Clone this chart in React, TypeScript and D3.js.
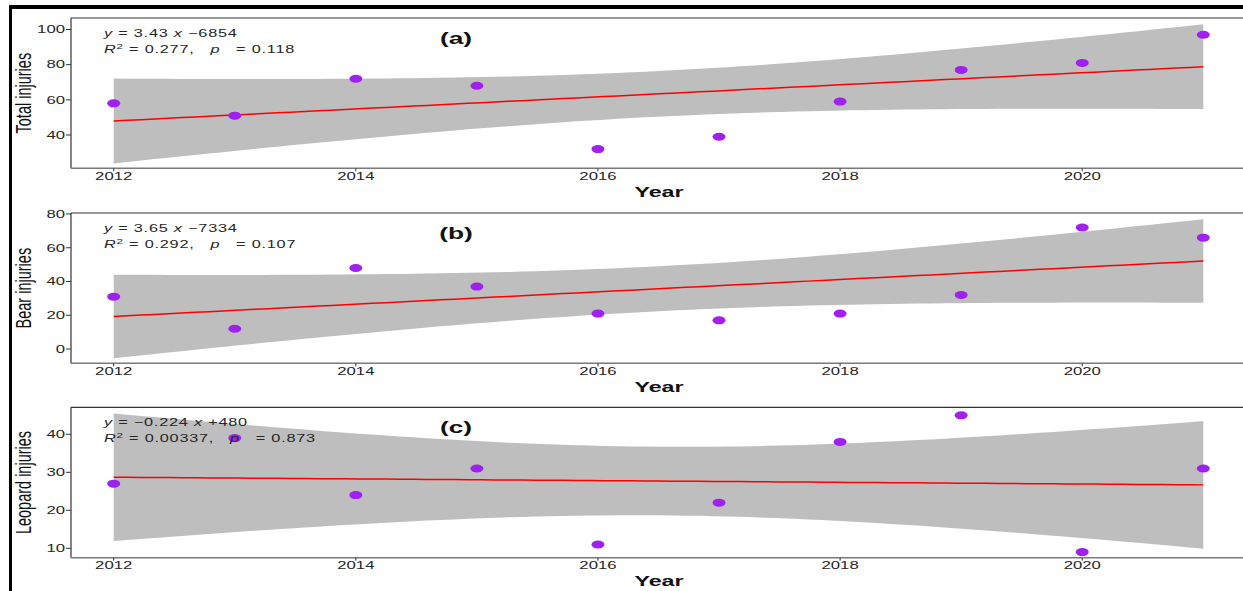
import React from 'react';
import * as d3 from 'd3';

// data
const years = [2012, 2013, 2014, 2015, 2016, 2017, 2018, 2019, 2020, 2021];
const totalInjuries = [58, 51, 72, 68, 32, 39, 59, 77, 81, 97];
const bearInjuries = [31, 12, 48, 37, 21, 17, 21, 32, 72, 66];
const leopardInjuries = [27, 39, 24, 31, 11, 22, 38, 45, 9, 31];

const xTicks = [2012, 2014, 2016, 2018, 2020];
const yTicksTotal = [40, 60, 80, 100];
const yTicksBear = [0, 20, 40, 60, 80];
const yTicksLeopard = [10, 20, 30, 40];

const panelTags = ['(a)', '(b)', '(c)'];
const yTitles = ['Total injuries', 'Bear injuries', 'Leopard injuries'];
const eqLine1 = [
  ['3.43', '\u22126854'],
  ['3.65', '\u22127334'],
  ['\u22120.224', '+480'],
];
const eqLine2 = [
  ['0.277', '0.118'],
  ['0.292', '0.107'],
  ['0.00337', '0.873'],
];

const T_975_DF8 = 2.306; // t quantile for 95% CI, n = 10

// layout
const W = 1243;
const H = 591;
const SX = 1.55; // the figure is stretched horizontally
const plotLeft = 71;
const plotRight = 1243;
const panels = [
  { top: 18, bottom: 168.3, values: totalInjuries, ticks: yTicksTotal, cal: [40, 135, 100, 29.5] },
  { top: 213, bottom: 363.3, values: bearInjuries, ticks: yTicksBear, cal: [0, 349, 80, 214] },
  { top: 407.3, bottom: 557.7, values: leopardInjuries, ticks: yTicksLeopard, cal: [10, 548.3, 40, 434.3] },
];

const FONT = '"Liberation Sans", Arial, sans-serif';
const INK = '#262626';

function fit(xs: number[], ys: number[]) {
  const n = xs.length;
  const mx = d3.mean(xs)!;
  const my = d3.mean(ys)!;
  const sxx = d3.sum(xs, (x) => (x - mx) ** 2);
  const sxy = d3.sum(xs, (x, i) => (x - mx) * (ys[i] - my));
  const b = sxy / sxx;
  const a = my - b * mx;
  const sse = d3.sum(xs, (x, i) => (ys[i] - (a + b * x)) ** 2);
  const s = Math.sqrt(sse / (n - 2));
  return (x: number) => {
    const yhat = a + b * x;
    const se = s * Math.sqrt(1 / n + (x - mx) ** 2 / sxx);
    return { yhat, lo: yhat - T_975_DF8 * se, hi: yhat + T_975_DF8 * se };
  };
}

const x = d3.scaleLinear().domain([2012, 2021]).range([113.7, 1203.3]);

function Stretched({ tx, ty, children, ...rest }: any) {
  return (
    <text
      transform={`translate(${tx},${ty}) scale(${SX},1)`}
      fontFamily={FONT}
      style={{ whiteSpace: 'pre' }}
      {...rest}
    >
      {children}
    </text>
  );
}

function Panel({ idx }: { idx: number }) {
  const p = panels[idx];
  const y = d3.scaleLinear().domain([p.cal[0], p.cal[2]]).range([p.cal[1], p.cal[3]]);
  const model = fit(years, p.values);
  const grid = d3.range(0, 81).map((i) => 2012 + (9 * i) / 80);
  const band = d3
    .area<number>()
    .x((d) => x(d))
    .y0((d) => y(model(d).lo))
    .y1((d) => y(model(d).hi));
  const line = d3
    .line<number>()
    .x((d) => x(d))
    .y((d) => y(model(d).yhat));
  const clipId = `clip${idx}`;
  const midY = (p.top + p.bottom) / 2;

  return (
    <g>
      <defs>
        <clipPath id={clipId}>
          <rect x={plotLeft} y={p.top} width={plotRight - plotLeft} height={p.bottom - p.top} />
        </clipPath>
      </defs>
      <g clipPath={`url(#${clipId})`}>
        <path d={band(grid)!} fill="#bebebe" />
        <path d={line(grid)!} fill="none" stroke="#ff0000" strokeWidth={1.5} />
        {years.map((yr, i) => (
          <ellipse key={yr} cx={x(yr)} cy={y(p.values[i])} rx={6.5} ry={4} fill="#a020f0" />
        ))}
      </g>
      {/* frame */}
      <line x1={plotLeft} x2={plotRight} y1={p.top} y2={p.top} stroke="#333" strokeWidth={1.2} />
      <line x1={plotLeft} x2={plotLeft} y1={p.top} y2={p.bottom} stroke="#333" strokeWidth={1.2} />
      <line x1={plotLeft} x2={plotRight} y1={p.bottom} y2={p.bottom} stroke="#7a7a7a" strokeWidth={1.6} />
      {/* y axis */}
      {p.ticks.map((t) => (
        <g key={t}>
          <line x1={plotLeft - 5} x2={plotLeft} y1={y(t)} y2={y(t)} stroke="#333" strokeWidth={1} />
          <Stretched tx={plotLeft - 6} ty={y(t) + 3.8} fontSize={10.8} textAnchor="end" fill={INK}>
            {t}
          </Stretched>
        </g>
      ))}
      {/* x axis */}
      {xTicks.map((t) => (
        <g key={t}>
          <line x1={x(t)} x2={x(t)} y1={p.bottom} y2={p.bottom + 3} stroke="#333" strokeWidth={1} />
          <Stretched tx={x(t)} ty={p.bottom + 11.5} fontSize={10.8} textAnchor="middle" fill={INK}>
            {t}
          </Stretched>
        </g>
      ))}
      <Stretched tx={659} ty={p.bottom + 28.7} fontSize={15} fontWeight="bold" textAnchor="middle" fill="#111">
        Year
      </Stretched>
      <text
        transform={`translate(31,${midY}) scale(${SX},1) rotate(-90)`}
        fontFamily={FONT}
        fontSize={14.5}
        textAnchor="middle"
        fill="#111"
      >
        {yTitles[idx]}
      </text>
      <Stretched tx={456} ty={p.top + 25.5} fontSize={17} fontWeight="bold" textAnchor="middle" fill="#111">
        {panelTags[idx]}
      </Stretched>
      <Stretched tx={104} ty={p.top + 18.5} fontSize={10.5} letterSpacing={0.5} fill={INK}>
        <tspan fontStyle="italic">y</tspan>
        {' = ' + eqLine1[idx][0] + ' '}
        <tspan fontStyle="italic">x</tspan>
        {' ' + eqLine1[idx][1]}
      </Stretched>
      <Stretched tx={104} ty={p.top + 35} fontSize={10.5} letterSpacing={0.5} fill={INK}>
        <tspan fontStyle="italic">R</tspan>
        <tspan fontSize={7.5} dy={-4}>2</tspan>
        <tspan dy={4}>{' = ' + eqLine2[idx][0] + ',   '}</tspan>
        <tspan fontStyle="italic">p</tspan>
        {'   = ' + eqLine2[idx][1]}
      </Stretched>
    </g>
  );
}

export default function App() {
  return (
    <svg width={W} height={H} style={{ position: 'absolute', left: 0, top: 0, background: '#fff' }}>
      <rect x={0} y={0} width={W} height={H} fill="#fff" />
      {panels.map((_, i) => (
        <Panel key={i} idx={i} />
      ))}
      <line x1={9} x2={W} y1={7} y2={7} stroke="#000" strokeWidth={4} />
      <line x1={10.5} x2={10.5} y1={5} y2={H} stroke="#000" strokeWidth={3} />
    </svg>
  );
}
